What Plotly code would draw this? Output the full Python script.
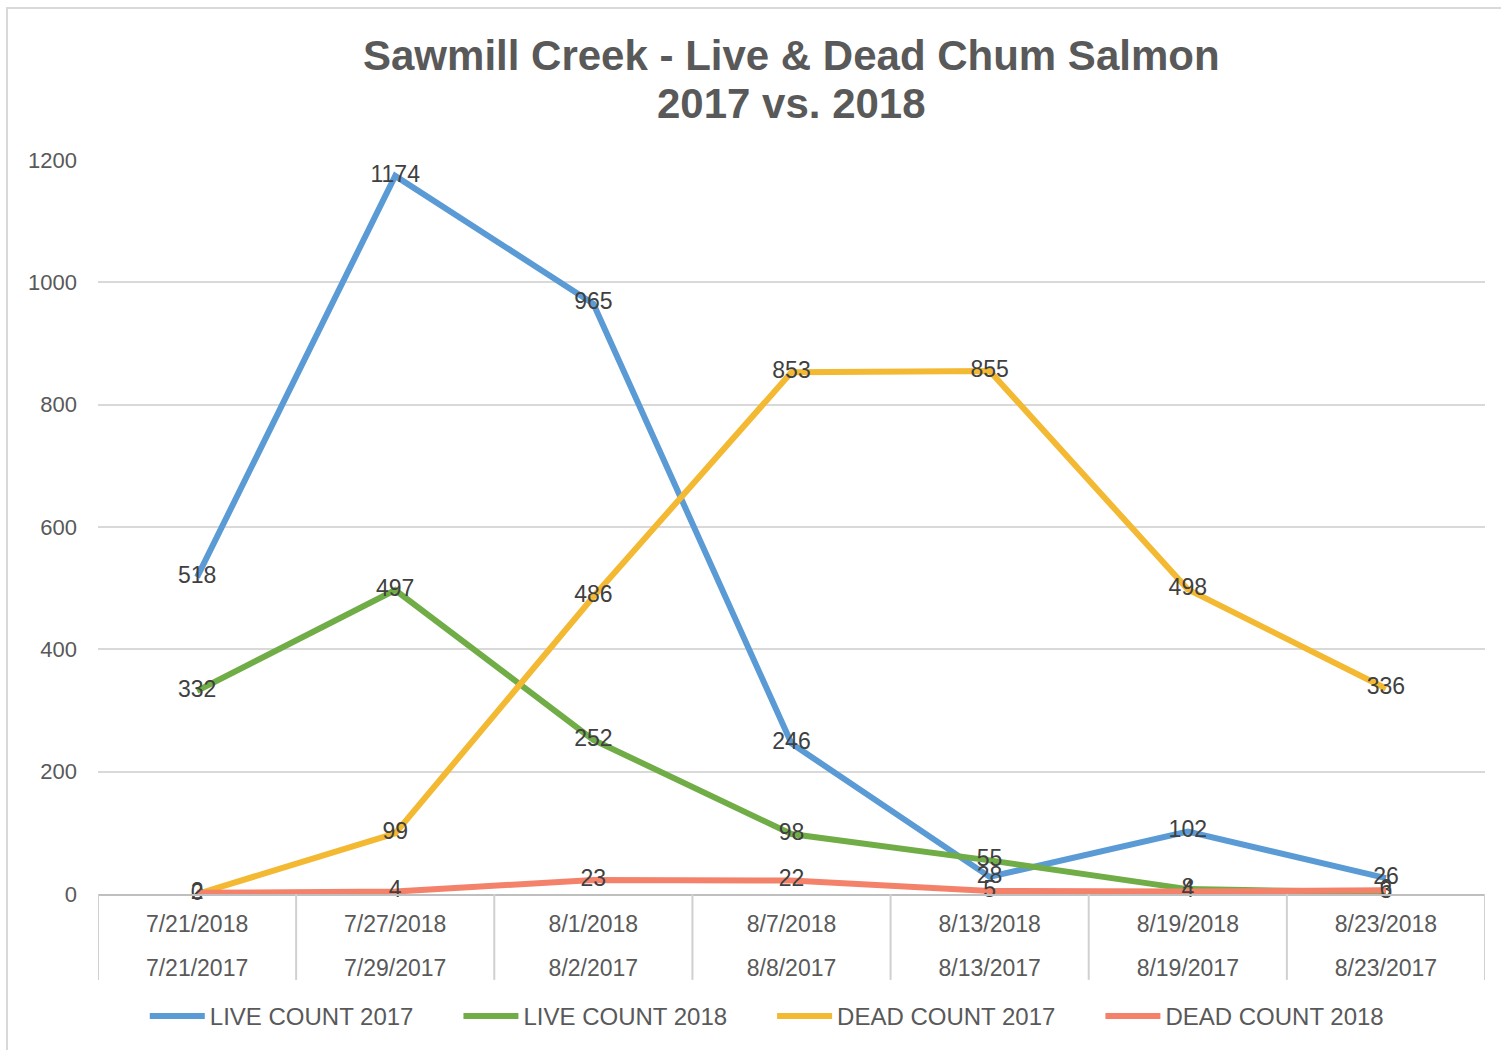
import plotly.graph_objects as go

dates_2018 = ["7/21/2018", "7/27/2018", "8/1/2018", "8/7/2018", "8/13/2018", "8/19/2018", "8/23/2018"]
dates_2017 = ["7/21/2017", "7/29/2017", "8/2/2017", "8/8/2017", "8/13/2017", "8/19/2017", "8/23/2017"]

live_2017 = [518, 1174, 965, 246, 28, 102, 26]
live_2018 = [332, 497, 252, 98, 55, 8, 3]
dead_2017 = [0, 99, 486, 853, 855, 498, 336]
dead_2018 = [2, 4, 23, 22, 5, 4, 6]

series = [
    ("LIVE COUNT 2017", live_2017, "#5b9bd5"),
    ("LIVE COUNT 2018", live_2018, "#70ad47"),
    ("DEAD COUNT 2017", dead_2017, "#f4b932"),
    ("DEAD COUNT 2018", dead_2018, "#f4826b"),
]

FONT = "Liberation Sans, Arial, sans-serif"
GRAY = "#595959"
PAD = "\u00a0" * 6

fig = go.Figure()
for name, vals, col in series:
    fig.add_trace(go.Scatter(
        x=dates_2018, y=vals, name=name + PAD, mode="lines+text",
        line=dict(color=col, width=6),
        text=[str(v) for v in vals], textposition="middle center",
        textfont=dict(family=FONT, size=23, color="#404040"),
        cliponaxis=False,
    ))

# invisible helper trace to carry the second (2017 dates) label row
fig.add_trace(go.Scatter(x=dates_2018, y=live_2017, xaxis="x2", mode="lines",
                         line=dict(width=0), opacity=0, showlegend=False, hoverinfo="skip"))

fig.update_layout(
    width=1501, height=1050,
    paper_bgcolor="white", plot_bgcolor="white",
    margin=dict(l=98, r=16, t=160, b=155),
    font=dict(family=FONT, size=23, color=GRAY),
    showlegend=True,
    legend=dict(orientation="h", x=0.4966, xanchor="center", y=-0.165, yanchor="middle",
                font=dict(family=FONT, size=24, color=GRAY), itemwidth=55,
                traceorder="normal"),
    xaxis=dict(type="category", range=[-0.5, 6.5], categoryorder="array", categoryarray=dates_2018,
               tickvals=dates_2018, ticktext=dates_2018, showline=True, linecolor="#bfbfbf",
               linewidth=1.5, showgrid=False, ticks="", ticklabelstandoff=9,
               tickfont=dict(size=23, color=GRAY)),
    xaxis2=dict(type="category", overlaying="x", side="bottom", anchor="y", range=[-0.5, 6.5],
                categoryorder="array", categoryarray=dates_2018,
                tickvals=dates_2018, ticktext=dates_2017, showline=False, showgrid=False,
                ticks="", ticklabelstandoff=58, tickfont=dict(size=23, color=GRAY)),
    yaxis=dict(range=[0, 1200], dtick=200, showgrid=True, gridcolor="#d9d9d9", gridwidth=1.5,
               zeroline=False, showline=False, tickfont=dict(size=22, color=GRAY),
               ticks="", ticklabelstandoff=20),
)

fig.add_annotation(text="<b>Sawmill Creek - Live &amp; Dead Chum Salmon</b>", xref="paper", yref="paper",
                   x=0.5, y=1.1429, xanchor="center", yanchor="middle", showarrow=False,
                   font=dict(family=FONT, size=42, color=GRAY))
fig.add_annotation(text="<b>2017 vs. 2018</b>", xref="paper", yref="paper",
                   x=0.5, y=1.0776, xanchor="center", yanchor="middle", showarrow=False,
                   font=dict(family=FONT, size=42, color=GRAY))

for i in range(len(dates_2018) + 1):
    fig.add_shape(type="line", xref="x", yref="paper", x0=i - 0.5, x1=i - 0.5, y0=0, y1=-0.117,
                  line=dict(color="#d0d0d0", width=2))

fig.add_shape(type="rect", xref="paper", yref="paper", x0=-0.0656, x1=1.05, y0=-0.3, y1=1.207,
              line=dict(color="#d9d9d9", width=2), fillcolor="rgba(0,0,0,0)", layer="below")

fig.write_html("out.html")
